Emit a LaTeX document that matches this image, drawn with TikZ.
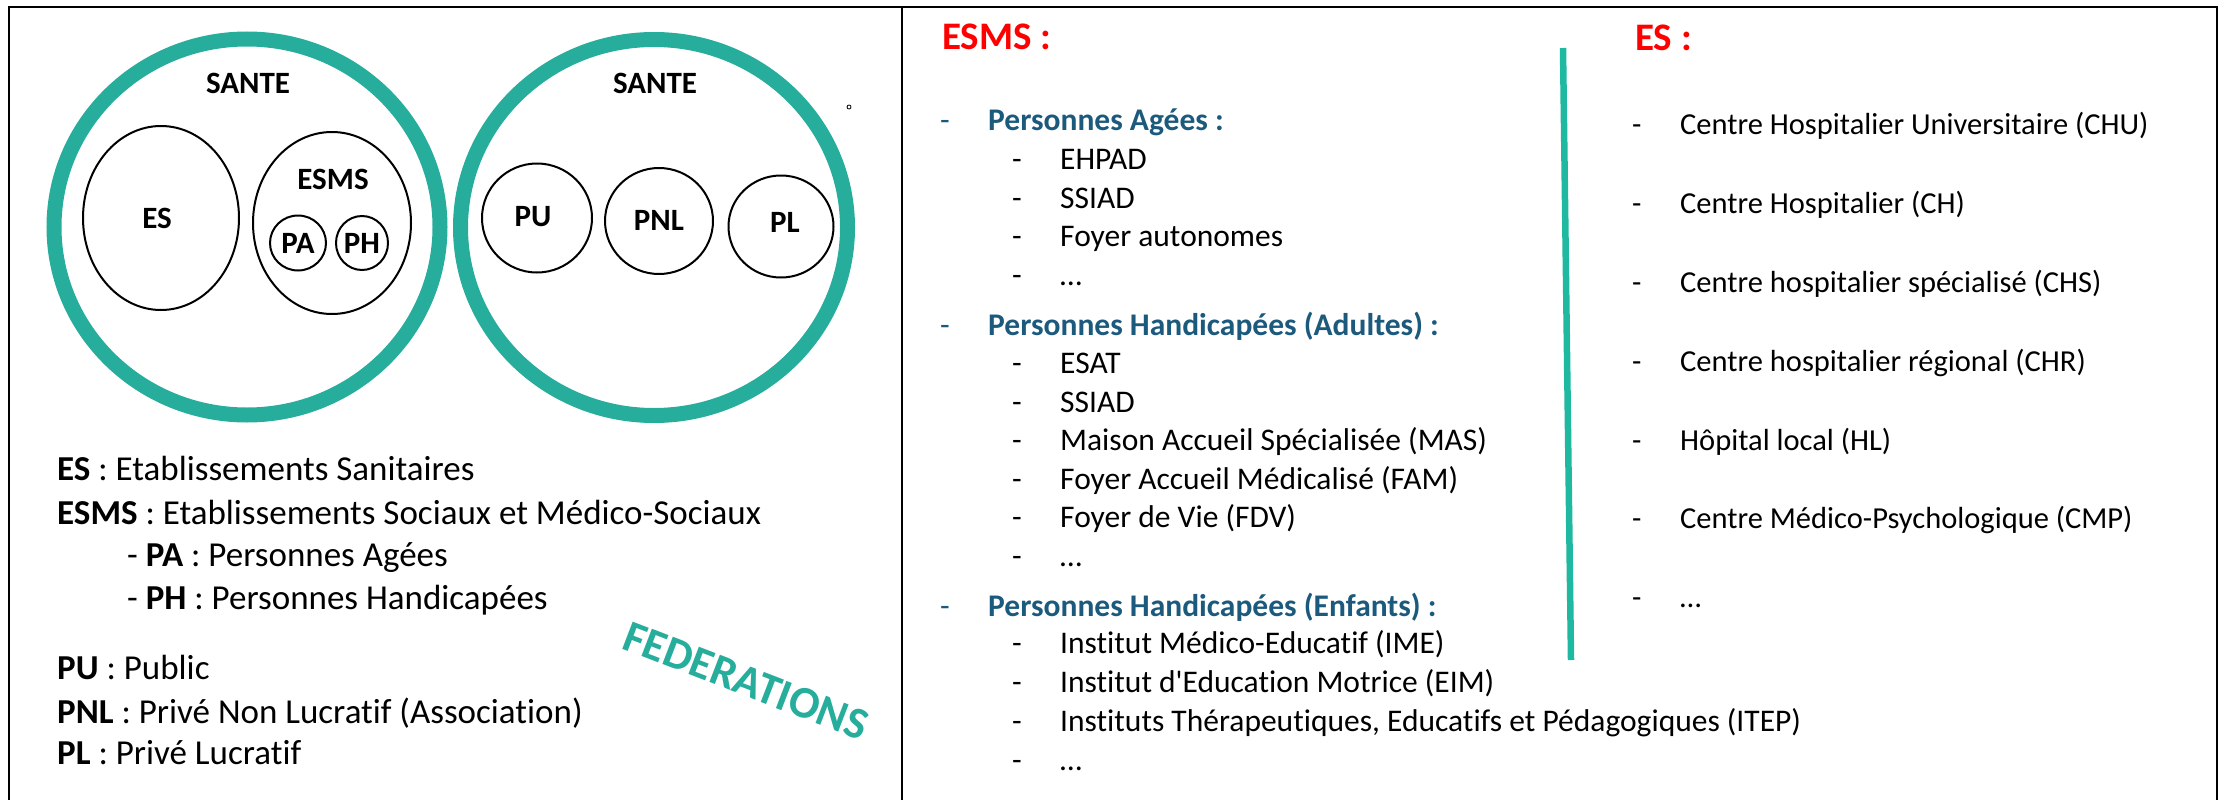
\documentclass[tikz,border=0pt]{standalone}
\usepackage{fontspec}
\setmainfont{Carlito}[Ligatures={NoCommon,NoContextual}]
\usetikzlibrary{shapes.geometric}
\definecolor{tealc}{RGB}{38,173,155}
\definecolor{tealline}{RGB}{30,185,160}
\definecolor{hdrblue}{RGB}{28,90,125}
\definecolor{esred}{RGB}{255,0,0}
\newcommand\fLbl{\fontsize{31}{37}\selectfont\bfseries}
\newcommand\fLeg{\fontsize{35}{42}\selectfont}
\newcommand\fMid{\fontsize{31.5}{38}\selectfont}
\newcommand\fRgt{\fontsize{30.5}{37}\selectfont}
\newcommand\fHead{\fontsize{39}{47}\selectfont\bfseries}
\newcommand\fFed{\fontsize{45}{54}\selectfont\bfseries}
\begin{document}
\begin{tikzpicture}[x=1pt,y=-1pt,
  tealring/.style={draw=tealc, line width=15pt, ellipse, inner sep=0pt},
  blackring/.style={draw=black, line width=2pt, ellipse, inner sep=0pt},
  lbl/.style={font=\fLbl, inner sep=0pt, anchor=center},
  legend/.style={font=\fLeg, inner sep=0pt, anchor=base west},
  mid/.style={font=\fMid, inner sep=0pt, anchor=base west},
  midhdr/.style={font=\fMid\bfseries, text=hdrblue, inner sep=0pt, anchor=base west},
  middash/.style={font=\fMid, text=hdrblue, inner sep=0pt, anchor=base west},
  rgt/.style={font=\fRgt, inner sep=0pt, anchor=base west},
  head/.style={font=\fHead, text=esred, inner sep=0pt, anchor=base west},
  frame/.style={draw=black, line width=2.6pt}
]
\useasboundingbox (0,0) rectangle (2219,800);
% frame
\draw[frame] (9,800) -- (9,7) -- (2217,7) -- (2217,800);
\draw[frame] (902,7) -- (902,800);

% left panel: SANTE 1
\node[tealring, minimum width=386pt, minimum height=376pt] (sante1) at (247,227) {};
\node[lbl] (sante1t) at (248,83) {SANTE};
\node[blackring, minimum width=156pt, minimum height=184pt] (es) at (161,218) {};
\node[lbl] (est) at (157,218) {ES};
\node[blackring, minimum width=158pt, minimum height=182pt] (esms) at (332,223) {};
\node[lbl] (esmst) at (333,179) {ESMS};
\node[blackring, minimum width=56pt, minimum height=55pt] (pa) at (298,243) {};
\node[lbl] (pat) at (298,243) {PA};
\node[blackring, minimum width=52pt, minimum height=54pt] (ph) at (362,243) {};
\node[lbl] (pht) at (362,243) {PH};

% SANTE 2
\node[tealring, minimum width=387pt, minimum height=376pt] (sante2) at (654,227.5) {};
\node[lbl] (sante2t) at (655,83) {SANTE};
\node[blackring, minimum width=110pt, minimum height=109pt] (pu) at (537,218) {};
\node[lbl] (put) at (533,217) {PU};
\node[blackring, minimum width=108pt, minimum height=106pt] (pnl) at (659,221) {};
\node[lbl] (pnlt) at (659,220) {PNL};
\node[blackring, minimum width=105pt, minimum height=102pt] (pl) at (781,226.5) {};
\node[lbl] (plt) at (785,222) {PL};
\node[draw=black, line width=0.8pt, circle, inner sep=0pt, minimum size=4pt] (dot) at (849,107) {};

% legend
\node[legend] (l1) at (57,480) {\textbf{ES} : Etablissements Sanitaires};
\node[legend] (l2) at (57,524) {\textbf{ESMS} : Etablissements Sociaux et Médico-Sociaux};
\node[legend] (l3) at (127,566) {- \textbf{PA} : Personnes Agées};
\node[legend] (l4) at (127,609) {- \textbf{PH} : Personnes Handicapées};
\node[legend] (l5) at (57,679) {\textbf{PU} : Public};
\node[legend] (l6) at (57,723) {\textbf{PNL} : Privé Non Lucratif (Association)};
\node[legend] (l7) at (57,764) {\textbf{PL} : Privé Lucratif};
\node[font=\fFed, text=tealc, inner sep=0pt, rotate=-21] (fed) at (746,681) {FEDERATIONS};

% middle panel
\node[head] (hesms) at (942,50) {ESMS :};
\foreach \yy in {130,335,616} \node[middash] (hd\yy) at (940,\yy) {-};
\node[midhdr] (h1) at (988,130) {Personnes Agées :};
\node[midhdr] (h2) at (988,335) {Personnes Handicapées (Adultes) :};
\node[midhdr] (h3) at (988,616) {Personnes Handicapées (Enfants) :};
\foreach \yy in {169,208,246,285,373,412,450,489,527,566,653,692,731,770}
  \node[mid] (md\yy) at (1012,\yy) {-};
\node[mid] (m1) at (1060,169) {EHPAD};
\node[mid] (m2) at (1060,208) {SSIAD};
\node[mid] (m3) at (1060,246) {Foyer autonomes};
\node[mid] (m4) at (1060,285) {…};
\node[mid] (m5) at (1060,373) {ESAT};
\node[mid] (m6) at (1060,412) {SSIAD};
\node[mid] (m7) at (1060,450) {Maison Accueil Spécialisée (MAS)};
\node[mid] (m8) at (1060,489) {Foyer Accueil Médicalisé (FAM)};
\node[mid] (m9) at (1060,527) {Foyer de Vie (FDV)};
\node[mid] (m10) at (1060,566) {…};
\node[mid] (m11) at (1060,653) {Institut Médico-Educatif (IME)};
\node[mid] (m12) at (1060,692) {Institut d\textquotesingle Education Motrice (EIM)};
\node[mid] (m13) at (1060,731) {Instituts Thérapeutiques, Educatifs et Pédagogiques (ITEP)};
\node[mid] (m14) at (1060,770) {…};

% separator
\coordinate (sepA) at (1563,48);
\coordinate (sepB) at (1571,660);
\draw[tealline, line width=6.5pt] (sepA) -- (sepB);

% right panel
\node[head] (hes) at (1635,51) {ES :};
\foreach \yy in {134,213,292,371,450,528,607}
  \node[rgt] (rd\yy) at (1632,\yy) {-};
\node[rgt] (r1) at (1680,134) {Centre Hospitalier Universitaire (CHU)};
\node[rgt] (r2) at (1680,213) {Centre Hospitalier (CH)};
\node[rgt] (r3) at (1680,292) {Centre hospitalier spécialisé (CHS)};
\node[rgt] (r4) at (1680,371) {Centre hospitalier régional (CHR)};
\node[rgt] (r5) at (1680,450) {Hôpital local (HL)};
\node[rgt] (r6) at (1680,528) {Centre Médico-Psychologique (CMP)};
\node[rgt] (r7) at (1680,607) {…};
\end{tikzpicture}
\end{document}
